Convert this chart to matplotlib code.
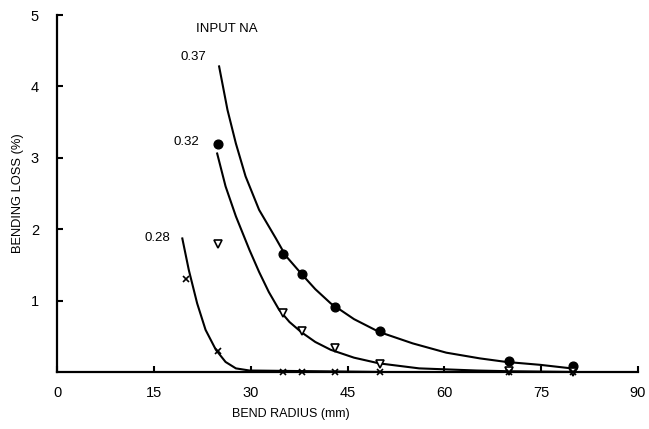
import matplotlib
matplotlib.use("Agg")
import matplotlib.pyplot as plt

plt.rcParams['font.family'] = ['Liberation Sans', 'DejaVu Sans']

# measured points
radius = [25, 35, 38, 43, 50, 70, 80]
loss_037 = [3.20, 1.65, 1.37, 0.91, 0.57, 0.16, 0.09]
loss_032 = [1.79, 0.83, 0.57, 0.33, 0.11, 0.02, 0.0]
radius_028 = [20, 25, 35, 38, 43, 50, 70, 80]
loss_028 = [1.30, 0.30, 0.0, 0.0, 0.0, 0.0, 0.0, 0.0]

# fitted curves
fit_x_037 = [25.1, 26.4, 27.7, 29.2, 31.3, 33.9, 35.4, 37.8, 40.0, 42.4, 46.0, 49.9, 55.1, 60.3, 65.5, 69.6, 74.8, 79.7]
fit_y_037 = [4.28, 3.67, 3.20, 2.74, 2.27, 1.87, 1.63, 1.38, 1.16, 0.96, 0.74, 0.56, 0.40, 0.27, 0.19, 0.14, 0.10, 0.05]
fit_x_032 = [24.8, 26.1, 27.7, 29.8, 31.3, 32.8, 34.4, 36.0, 37.8, 40.0, 42.4, 46.0, 49.9, 56.1, 65, 70, 80]
fit_y_032 = [3.06, 2.60, 2.18, 1.71, 1.40, 1.12, 0.87, 0.70, 0.56, 0.42, 0.31, 0.20, 0.12, 0.05, 0.02, 0.01, 0.0]
fit_x_028 = [19.4, 20.4, 21.7, 23.0, 24.6, 26.1, 27.7, 29.8, 50]
fit_y_028 = [1.87, 1.43, 0.96, 0.59, 0.31, 0.14, 0.05, 0.02, 0.0]

xticks = [0, 15, 30, 45, 60, 75, 90]
yticks = [1, 2, 3, 4, 5]

fig = plt.figure(figsize=(6.49, 4.29), dpi=100)
ax = fig.add_axes([0.088, 0.133, 0.895, 0.832])

ax.plot(fit_x_037, fit_y_037, color="black", linewidth=1.5)
ax.plot(fit_x_032, fit_y_032, color="black", linewidth=1.5)
ax.plot(fit_x_028, fit_y_028, color="black", linewidth=1.5)

ax.plot(radius, loss_037, "o", color="black", markersize=6.3, clip_on=False)
ax.plot(radius, loss_032, "v", markerfacecolor="white", markeredgecolor="black",
        markersize=6, markeredgewidth=1.2, clip_on=False)
ax.plot(radius_028, loss_028, "x", color="black", markersize=4, markeredgewidth=1.2, clip_on=False)

ax.text(23.1, 4.41, "0.37", ha="right", va="center", fontsize=9.5)
ax.text(22.0, 3.22, "0.32", ha="right", va="center", fontsize=9.5)
ax.text(17.6, 1.88, "0.28", ha="right", va="center", fontsize=9.5)
ax.text(21.5, 4.80, "INPUT NA", ha="left", va="center", fontsize=9.5)

ax.set_xlim(0, 90)
ax.set_ylim(0, 5)
ax.set_xticks(xticks)
ax.set_yticks(yticks)
ax.spines['top'].set_visible(False)
ax.spines['right'].set_visible(False)
ax.spines['left'].set_linewidth(1.6)
ax.spines['bottom'].set_linewidth(1.6)
ax.tick_params(axis='both', direction='in', length=4.5, width=1.5, labelsize=10.5)
ax.tick_params(axis='y', pad=13)
ax.tick_params(axis='x', pad=10)

ax.set_xlabel("BEND RADIUS (mm)", fontsize=9)
ax.set_ylabel("BENDING LOSS (%)", fontsize=9.3)
ax.xaxis.set_label_coords(0.403, -0.10)
ax.yaxis.set_label_coords(-0.057, 0.5)

fig.savefig("out.png", dpi=100)
